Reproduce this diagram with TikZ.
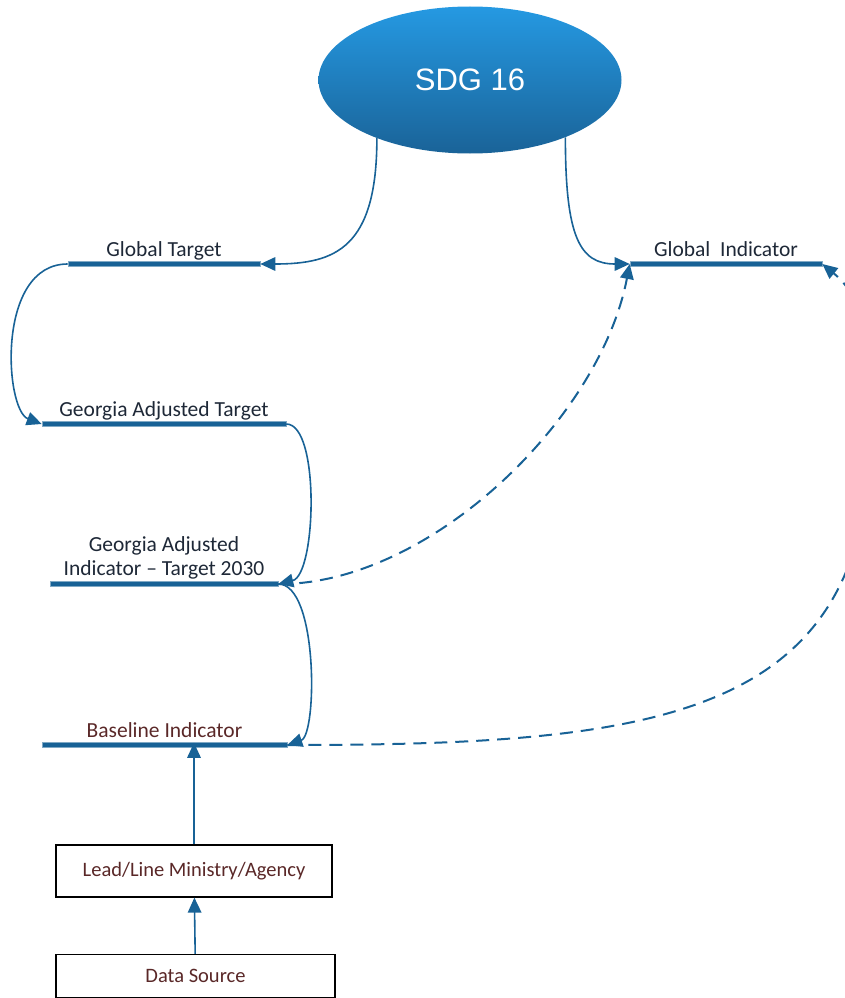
\documentclass[tikz,border=0pt]{standalone}
\usepackage{fontspec}
\setmainfont{Carlito}
\newfontfamily\sdgfont{Liberation Sans}
\usepackage{tikz}
\usetikzlibrary{shapes.geometric,arrows.meta,positioning}

\definecolor{barblue}{RGB}{24,98,150}
\definecolor{navytext}{RGB}{30,40,55}
\definecolor{browntext}{RGB}{90,40,40}
\definecolor{sdgtop}{RGB}{37,153,226}
\definecolor{sdgbottom}{RGB}{26,99,152}

\begin{document}
\begin{tikzpicture}[x=1pt, y=-1pt, node distance=105pt]
    % Define styles
    \tikzstyle{goal} = [ellipse, top color=sdgtop, bottom color=sdgbottom, draw=none, minimum width=303pt, minimum height=147pt, inner sep=0pt, text=white, font=\sdgfont\fontsize{31}{36}\selectfont]
    \tikzstyle{bar} = [rectangle, fill=barblue, draw=barblue!55!white, line width=0.6pt, minimum height=5pt, inner sep=0pt]
    \tikzstyle{lbl} = [anchor=base, yshift=5pt, inner sep=0pt, text=navytext, font=\fontsize{21.5}{24}\selectfont]
    \tikzstyle{source} = [rectangle, draw=black, line width=1.2pt, fill=white, text=browntext, font=\fontsize{20.5}{24}\selectfont]
    \tikzstyle{link} = [draw=barblue, line width=1.6pt, -{Triangle[length=15pt,width=13.5pt]}]
    \tikzstyle{dlink} = [link, line width=2pt, dash pattern=on 13pt off 8pt]

    \useasboundingbox (0,0) rectangle (845,998);

    % Goal
    \node [goal] (sdg) at (470,80) {SDG 16};

    % Targets and indicators
    \node [bar, minimum width=192pt, label={[lbl]above:Global Target}] (gtarget) at (164,264) {};
    \node [bar, minimum width=192pt, label={[lbl]above:Global~ Indicator}] (gind) at (726,264) {};
    \node [bar, minimum width=244pt, label={[lbl]above:Georgia Adjusted Target}] (gatarget) at (164,424) {};
    \node [bar, minimum width=228pt, label={[lbl, anchor=south, yshift=-3.5pt, align=center]above:Georgia Adjusted\\Indicator – Target 2030}] (gaind) at (164,584) {};
    \node [bar, minimum width=245pt, label={[lbl, text=browntext]above:Baseline Indicator}] (baseline) at (164.5,745) {};

    % Sources
    \node [source, minimum width=276pt, minimum height=52pt] (lead) at (194,871) {Lead/Line Ministry/Agency};
    \node [source, below of=lead, minimum width=279pt, minimum height=43pt, xshift=1.5pt] (data) {Data Source};

    \coordinate (bend) at (870,450);

    % Arrows
    \draw [link] (sdg.212) .. controls +(0,110) and +(75,0) .. (gtarget.east);
    \draw [link] (sdg.329) .. controls +(0,100) and +(-50,0) .. (gind.west);
    \draw [link] (gtarget.west) .. controls +(-72,0) and +(-37,-14) .. (gatarget.west);
    \draw [link] (gatarget.east) .. controls +(34,0) and +(38,-9) .. (gaind.east);
    \draw [link] (gaind.east) .. controls +(40,0) and +(30,-10) .. (baseline.east);
    \draw [dlink] (gaind.east) .. controls +(150,1) and +(-30,156) .. (gind.west);
    \draw [dlink] (baseline.east) .. controls +(363,0) and +(-10,270) .. (bend) .. controls +(0,-120) and +(38,31) .. (gind.east);
    \draw [link] (lead.north) -- ([yshift=5pt]lead.north |- baseline.south);
    \draw [link] (data) -- (lead);
\end{tikzpicture}
\end{document}
